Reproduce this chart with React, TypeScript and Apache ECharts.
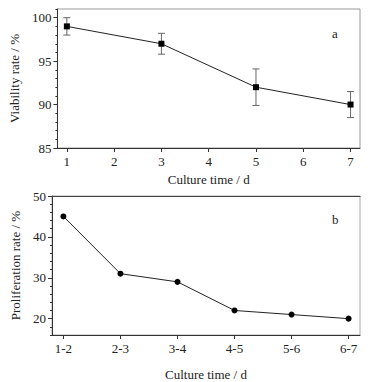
import React, { useEffect, useRef } from "react";
import * as echarts from "echarts";

const days = [1, 3, 5, 7];
const viability = [99, 97, 92, 90];
const viabilityLow = [98, 95.8, 89.9, 88.5];
const viabilityHigh = [100, 98.2, 94.1, 91.5];
const dayTicks = [1, 2, 3, 4, 5, 6, 7];
const viabilityTicks = [85, 90, 95, 100];

const periods = ["1-2", "2-3", "3-4", "4-5", "5-6", "6-7"];
const proliferation = [45, 31, 29, 22, 21, 20];
const proliferationTicks = [20, 30, 40, 50];

const FONT = "'Liberation Serif', 'Times New Roman', serif";
const TXT = "#222";

export default function App() {
  const ref = useRef<HTMLDivElement>(null);
  useEffect(() => {
    if (!ref.current) return;
    const chart = echarts.init(ref.current, null, { renderer: "svg" });
    const labelStyle = { fontFamily: FONT, fontSize: 13, color: TXT };
    const nameStyle = { fontFamily: FONT, fontSize: 13, color: TXT };
    const axisLine = { show: true, onZero: false, lineStyle: { color: "#333", width: 1 } };
    const majorTick = { show: true, inside: false, length: 4, lineStyle: { color: "#333" } };
    const periodPos = periods.map((_, i) => i + 1);
    chart.setOption({
      animation: false,
      backgroundColor: "#fff",
      grid: [
        { left: 52, top: 9, width: 308, height: 139, show: true, borderColor: "#999", borderWidth: 1 },
        { left: 52, top: 196, width: 308, height: 140, show: true, borderColor: "#aaa", borderWidth: 1 },
      ],
      xAxis: [
        {
          type: "value", gridIndex: 0, min: 0.8, max: 7.2,
          axisLine, axisTick: { ...majorTick, customValues: dayTicks },
          axisLabel: { ...labelStyle, margin: 7, customValues: dayTicks },
          splitLine: { show: false },
          name: "Culture time / d", nameLocation: "middle", nameGap: 25, nameTextStyle: nameStyle,
        },
        {
          type: "value", gridIndex: 1, min: 0.8, max: 6.2,
          axisLine, axisTick: { ...majorTick, customValues: periodPos },
          axisLabel: { ...labelStyle, margin: 7, customValues: periodPos, formatter: (v: number) => periods[Math.round(v) - 1] ?? "" },
          splitLine: { show: false },
          name: "Culture time / d", nameLocation: "middle", nameGap: 33, nameTextStyle: nameStyle,
        },
        {
          type: "value", gridIndex: 1, position: "top", min: 0.8, max: 6.2,
          axisLine: { show: true, onZero: false, lineStyle: { color: "#444", width: 1 } },
          axisTick: { show: false }, axisLabel: { show: false }, splitLine: { show: false },
        },
      ],
      yAxis: [
        {
          type: "value", gridIndex: 0, min: 85, max: 101,
          axisLine, axisTick: { ...majorTick, customValues: viabilityTicks },
          axisLabel: { ...labelStyle, margin: 6, customValues: viabilityTicks },
          splitLine: { show: false },
          name: "Viability rate / %", nameLocation: "middle", nameGap: 27, nameTextStyle: nameStyle,
        },
        {
          type: "value", gridIndex: 0, position: "left", min: 85, max: 101, interval: 1,
          axisLine: { show: false, onZero: false }, axisTick: { show: true, length: 2, lineStyle: { color: "#333" } },
          axisLabel: { show: false }, splitLine: { show: false },
        },
        {
          type: "value", gridIndex: 1, min: 16, max: 50,
          axisLine, axisTick: { ...majorTick, customValues: proliferationTicks },
          axisLabel: { ...labelStyle, margin: 6, customValues: proliferationTicks },
          splitLine: { show: false },
          name: "Proliferation rate / %", nameLocation: "middle", nameGap: 27, nameTextStyle: nameStyle,
        },
        {
          type: "value", gridIndex: 1, position: "left", min: 16, max: 50, interval: 2,
          axisLine: { show: false, onZero: false }, axisTick: { show: true, length: 2, lineStyle: { color: "#333" } },
          axisLabel: { show: false }, splitLine: { show: false },
        },
      ],
      series: [
        {
          type: "custom", xAxisIndex: 0, yAxisIndex: 0,
          data: days.map((d, i) => [d, viabilityLow[i], viabilityHigh[i]]),
          renderItem: (params: any, api: any) => {
            const lo = api.coord([api.value(0), api.value(1)]);
            const hi = api.coord([api.value(0), api.value(2)]);
            const w = 3.5;
            const st = { stroke: "#666", lineWidth: 1 };
            return {
              type: "group",
              children: [
                { type: "line", shape: { x1: lo[0], y1: lo[1], x2: hi[0], y2: hi[1] }, style: st },
                { type: "line", shape: { x1: lo[0] - w, y1: lo[1], x2: lo[0] + w, y2: lo[1] }, style: st },
                { type: "line", shape: { x1: hi[0] - w, y1: hi[1], x2: hi[0] + w, y2: hi[1] }, style: st },
              ],
            };
          },
          z: 1,
        },
        {
          type: "line", xAxisIndex: 0, yAxisIndex: 0,
          data: days.map((d, i) => [d, viability[i]]),
          symbol: "rect", symbolSize: 6,
          lineStyle: { color: "#222", width: 1 },
          itemStyle: { color: "#000" },
          z: 3,
        },
        {
          type: "line", xAxisIndex: 1, yAxisIndex: 2,
          data: periods.map((_, i) => [periodPos[i], proliferation[i]]),
          symbol: "circle", symbolSize: 6,
          lineStyle: { color: "#222", width: 1 },
          itemStyle: { color: "#000" },
          z: 3,
        },
      ],
      graphic: [
        { type: "text", left: 332, top: 27, style: { text: "a", fontFamily: FONT, fontSize: 13, fill: TXT } },
        { type: "text", left: 332, top: 213, style: { text: "b", fontFamily: FONT, fontSize: 13, fill: TXT } },
      ],
    });
    return () => chart.dispose();
  }, []);
  return <div ref={ref} style={{ position: "fixed", left: 0, top: 0, width: 372, height: 382 }} />;
}
